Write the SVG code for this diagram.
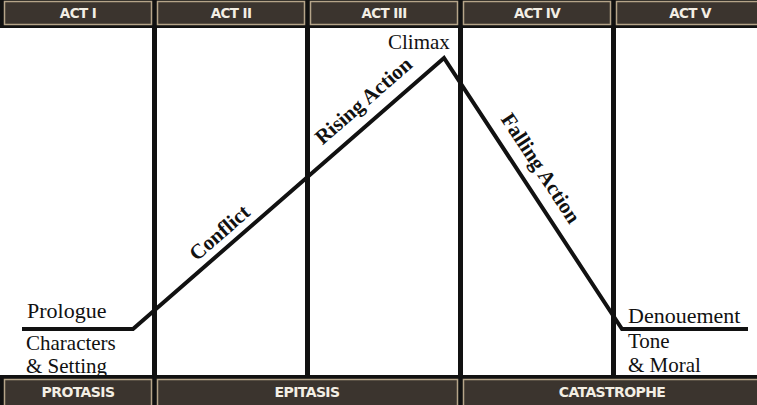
<svg xmlns="http://www.w3.org/2000/svg" width="757" height="405" viewBox="0 0 757 405">
<style>
.cell{fill:#3b342e;stroke:#b5a489;stroke-width:1.5}
.hd{font-family:"DejaVu Sans",sans-serif;font-weight:bold;font-size:13.5px;fill:#f3eee4;text-anchor:middle;letter-spacing:-0.6px}
.ft{font-size:14px}
.lab{font-family:"Liberation Serif",serif;font-size:22px;fill:#111}
.sm{font-size:21px}
.arc{font-family:"Liberation Serif",serif;font-weight:bold;font-size:21px;fill:#111;text-anchor:middle}
.div{stroke:#111;stroke-width:5}
.plot{fill:none;stroke:#111;stroke-width:4;stroke-linejoin:miter}
</style>
<rect width="757" height="405" fill="#fff"/>
<g id="frame">
<rect x="0" y="0" width="757" height="28" fill="#111"/>
<rect x="0" y="375" width="757" height="30" fill="#111"/>
</g>
<g id="dividers">
<line class="div" x1="154.5" y1="0" x2="154.5" y2="378"/>
<line class="div" x1="307.5" y1="0" x2="307.5" y2="378"/>
<line class="div" x1="460.5" y1="0" x2="460.5" y2="405"/>
<line class="div" x1="613.5" y1="0" x2="613.5" y2="378"/>
</g>
<g id="act1"><rect class="cell" x="4.5" y="1.5" width="147" height="23"/><text class="hd" x="78" y="18">ACT I</text></g>
<g id="act2"><rect class="cell" x="157.5" y="1.5" width="147" height="23"/><text class="hd" x="231" y="18">ACT II</text></g>
<g id="act3"><rect class="cell" x="310.5" y="1.5" width="147" height="23"/><text class="hd" x="384" y="18">ACT III</text></g>
<g id="act4"><rect class="cell" x="463.5" y="1.5" width="147" height="23"/><text class="hd" x="537" y="18">ACT IV</text></g>
<g id="act5"><rect class="cell" x="616.5" y="1.5" width="142" height="23"/><text class="hd" x="690" y="18">ACT V</text></g>
<g id="protasis"><rect class="cell" x="4.5" y="379.5" width="147" height="27"/><text class="hd ft" x="78" y="397">PROTASIS</text></g>
<g id="epitasis"><rect class="cell" x="157.5" y="379.5" width="300" height="27"/><text class="hd ft" x="307" y="397">EPITASIS</text></g>
<g id="catastrophe"><rect class="cell" x="463.5" y="379.5" width="295" height="27"/><text class="hd ft" x="612" y="397">CATASTROPHE</text></g>
<g id="connectors">
<polyline class="plot" points="22,329 133,329 444,58 622,329 748,329"/>
</g>
<g id="prologue"><text class="lab" x="27" y="318">Prologue</text></g>
<g id="characters"><text class="lab sm" x="26" y="349.5">Characters</text><text class="lab sm" x="26" y="373">&amp; Setting</text></g>
<g id="climax"><text class="lab sm" x="388" y="49">Climax</text></g>
<g id="denouement"><text class="lab" x="628" y="323">Denouement</text></g>
<g id="tone"><text class="lab sm" x="628" y="348">Tone</text><text class="lab sm" x="628" y="371.5">&amp; Moral</text></g>
<g id="conflict"><text class="arc" transform="translate(224,238) rotate(-41)">Conflict</text></g>
<g id="rising"><text class="arc" transform="translate(368,106) rotate(-41)">Rising Action</text></g>
<g id="falling"><text class="arc" transform="translate(535,172) rotate(56.7)">Falling Action</text></g>
</svg>
